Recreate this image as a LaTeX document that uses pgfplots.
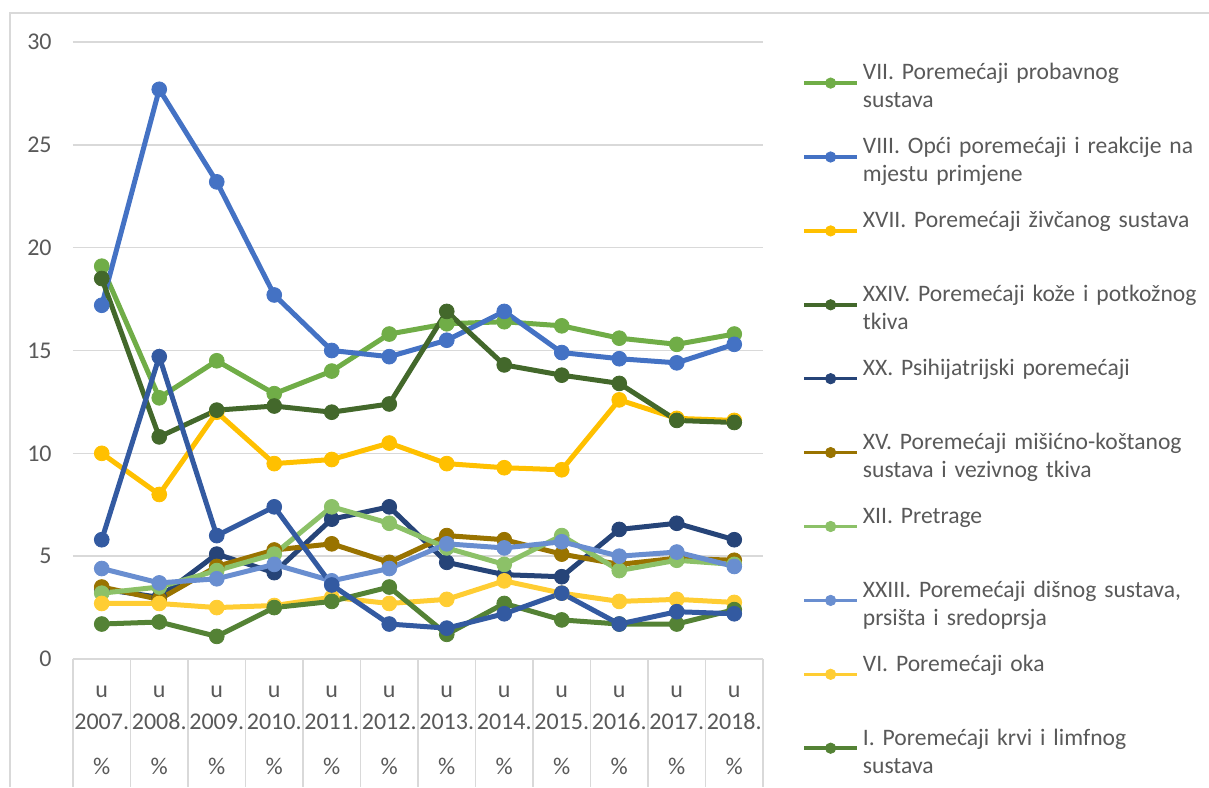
\documentclass[border=0pt]{standalone}
\usepackage{pgfplots}
\pgfplotsset{compat=1.18}
\usepackage{fontspec}
\setmainfont{Carlito}
\definecolor{txt}{HTML}{595959}
\definecolor{grd}{HTML}{D9D9D9}
\definecolor{cA}{HTML}{70AD47}
\definecolor{cB}{HTML}{4472C4}
\definecolor{cC}{HTML}{FFC000}
\definecolor{cD}{HTML}{43682B}
\definecolor{cE}{HTML}{264478}
\definecolor{cF}{HTML}{997300}
\definecolor{cG}{HTML}{8CC168}
\definecolor{cH}{HTML}{698ED0}
\definecolor{cI}{HTML}{FFCD33}
\definecolor{cJ}{HTML}{548235}
\definecolor{cK}{HTML}{335AA1}
\pgfplotsset{ser/.style={color=#1, line width=2.5pt, mark=*, mark size=3.7pt, mark options={solid, line width=0.4pt, fill=#1, draw=#1}}}
\begin{document}
\begin{tikzpicture}
\useasboundingbox (-36.5pt,-64pt) rectangle (568pt,329.5pt);
\draw[grd, line width=0.75pt] (-31.5pt,-64pt) -- (-31.5pt,323pt) -- (568pt,323pt);
\begin{axis}[
  scale only axis, width=345pt, height=308.5pt,
  xmin=-0.5, xmax=11.5, ymin=0, ymax=30,
  clip=false,
  axis line style={draw=none},
  xtick={0,...,11},
  xticklabels={{u\\2007.\\[6.5pt]\%},{u\\2008.\\[6.5pt]\%},{u\\2009.\\[6.5pt]\%},{u\\2010.\\[6.5pt]\%},{u\\2011.\\[6.5pt]\%},{u\\2012.\\[6.5pt]\%},{u\\2013.\\[6.5pt]\%},{u\\2014.\\[6.5pt]\%},{u\\2015.\\[6.5pt]\%},{u\\2016.\\[6.5pt]\%},{u\\2017.\\[6.5pt]\%},{u\\2018.\\[6.5pt]\%}},
  xticklabel style={anchor=base, yshift=-19.3pt, text width=40pt, align=center, inner sep=0pt, text=txt, font=\fontsize{12pt}{16pt}\selectfont},
  ytick={0,5,...,30},
  yticklabel style={anchor=east, inner sep=0pt, xshift=-10.5pt, text=txt, font=\fontsize{12pt}{14pt}\selectfont},
  /pgf/number format/assume math mode=true,
  major tick length=0pt,
  ymajorgrids, grid style={grd, line width=0.75pt},
  legend cell align=left,
  legend style={draw=none, fill=none, at={(1.0565,0.9684)}, anchor=north west, inner sep=0pt, row sep=7.95pt, column sep=2pt,
    nodes={inner sep=0pt, text height=9pt, text depth=20pt, text width=175pt, align=left, text=txt, font=\fontsize{11.8pt}{14pt}\selectfont}},
  legend image code/.code={\draw[mark repeat=2,mark phase=2,#1,line width=1.75pt,mark size=2.6pt] plot coordinates {(0pt,3.9pt) (13.25pt,3.9pt) (26.5pt,3.9pt)};},
]
\draw[grd, line width=0.75pt] (axis cs:-0.5,0) -- (axis cs:11.5,0);
\pgfplotsinvokeforeach{-0.5,0.5,...,11.5}{\draw[grd, line width=0.75pt] (axis cs:#1,0) -- ++(0pt,-64pt);}
\addplot[ser=cA] coordinates {(0,19.1)(1,12.7)(2,14.5)(3,12.9)(4,14.0)(5,15.8)(6,16.3)(7,16.4)(8,16.2)(9,15.6)(10,15.3)(11,15.8)};
\addlegendentry{VII. Poremećaji probavnog\\sustava}
\addplot[ser=cB] coordinates {(0,17.2)(1,27.7)(2,23.2)(3,17.7)(4,15.0)(5,14.7)(6,15.5)(7,16.9)(8,14.9)(9,14.6)(10,14.4)(11,15.3)};
\addlegendentry{VIII. Opći poremećaji i reakcije na\\mjestu primjene}
\addplot[ser=cC] coordinates {(0,10.0)(1,8.0)(2,12.0)(3,9.5)(4,9.7)(5,10.5)(6,9.5)(7,9.3)(8,9.2)(9,12.6)(10,11.7)(11,11.6)};
\addlegendentry{XVII. Poremećaji živčanog sustava}
\addplot[ser=cD] coordinates {(0,18.5)(1,10.8)(2,12.1)(3,12.3)(4,12.0)(5,12.4)(6,16.9)(7,14.3)(8,13.8)(9,13.4)(10,11.6)(11,11.5)};
\addlegendentry{XXIV. Poremećaji kože i potkožnog\\tkiva}
\addplot[ser=cE] coordinates {(0,3.4)(1,3.0)(2,5.1)(3,4.2)(4,6.8)(5,7.4)(6,4.7)(7,4.1)(8,4.0)(9,6.3)(10,6.6)(11,5.8)};
\addlegendentry{XX. Psihijatrijski poremećaji}
\addplot[ser=cF] coordinates {(0,3.5)(1,2.9)(2,4.5)(3,5.3)(4,5.6)(5,4.7)(6,6.0)(7,5.8)(8,5.1)(9,4.6)(10,4.9)(11,4.8)};
\addlegendentry{XV. Poremećaji mišićno-koštanog\\sustava i vezivnog tkiva}
\addplot[ser=cG] coordinates {(0,3.2)(1,3.5)(2,4.3)(3,5.1)(4,7.4)(5,6.6)(6,5.4)(7,4.6)(8,6.0)(9,4.3)(10,4.8)(11,4.6)};
\addlegendentry{XII. Pretrage}
\addplot[ser=cH] coordinates {(0,4.4)(1,3.7)(2,3.9)(3,4.6)(4,3.8)(5,4.4)(6,5.6)(7,5.4)(8,5.7)(9,5.0)(10,5.2)(11,4.5)};
\addlegendentry{XXIII. Poremećaji dišnog sustava,\\prsišta i sredoprsja}
\addplot[ser=cI] coordinates {(0,2.7)(1,2.7)(2,2.5)(3,2.6)(4,3.0)(5,2.7)(6,2.9)(7,3.8)(8,3.2)(9,2.8)(10,2.9)(11,2.75)};
\addlegendentry{VI. Poremećaji oka}
\addplot[ser=cJ] coordinates {(0,1.7)(1,1.8)(2,1.1)(3,2.5)(4,2.8)(5,3.5)(6,1.2)(7,2.7)(8,1.9)(9,1.7)(10,1.7)(11,2.4)};
\addlegendentry{I. Poremećaji krvi i limfnog\\sustava}
\addplot[ser=cK, forget plot] coordinates {(0,5.8)(1,14.7)(2,6.0)(3,7.4)(4,3.6)(5,1.7)(6,1.5)(7,2.2)(8,3.2)(9,1.7)(10,2.3)(11,2.2)};
\end{axis}
\end{tikzpicture}
\end{document}
